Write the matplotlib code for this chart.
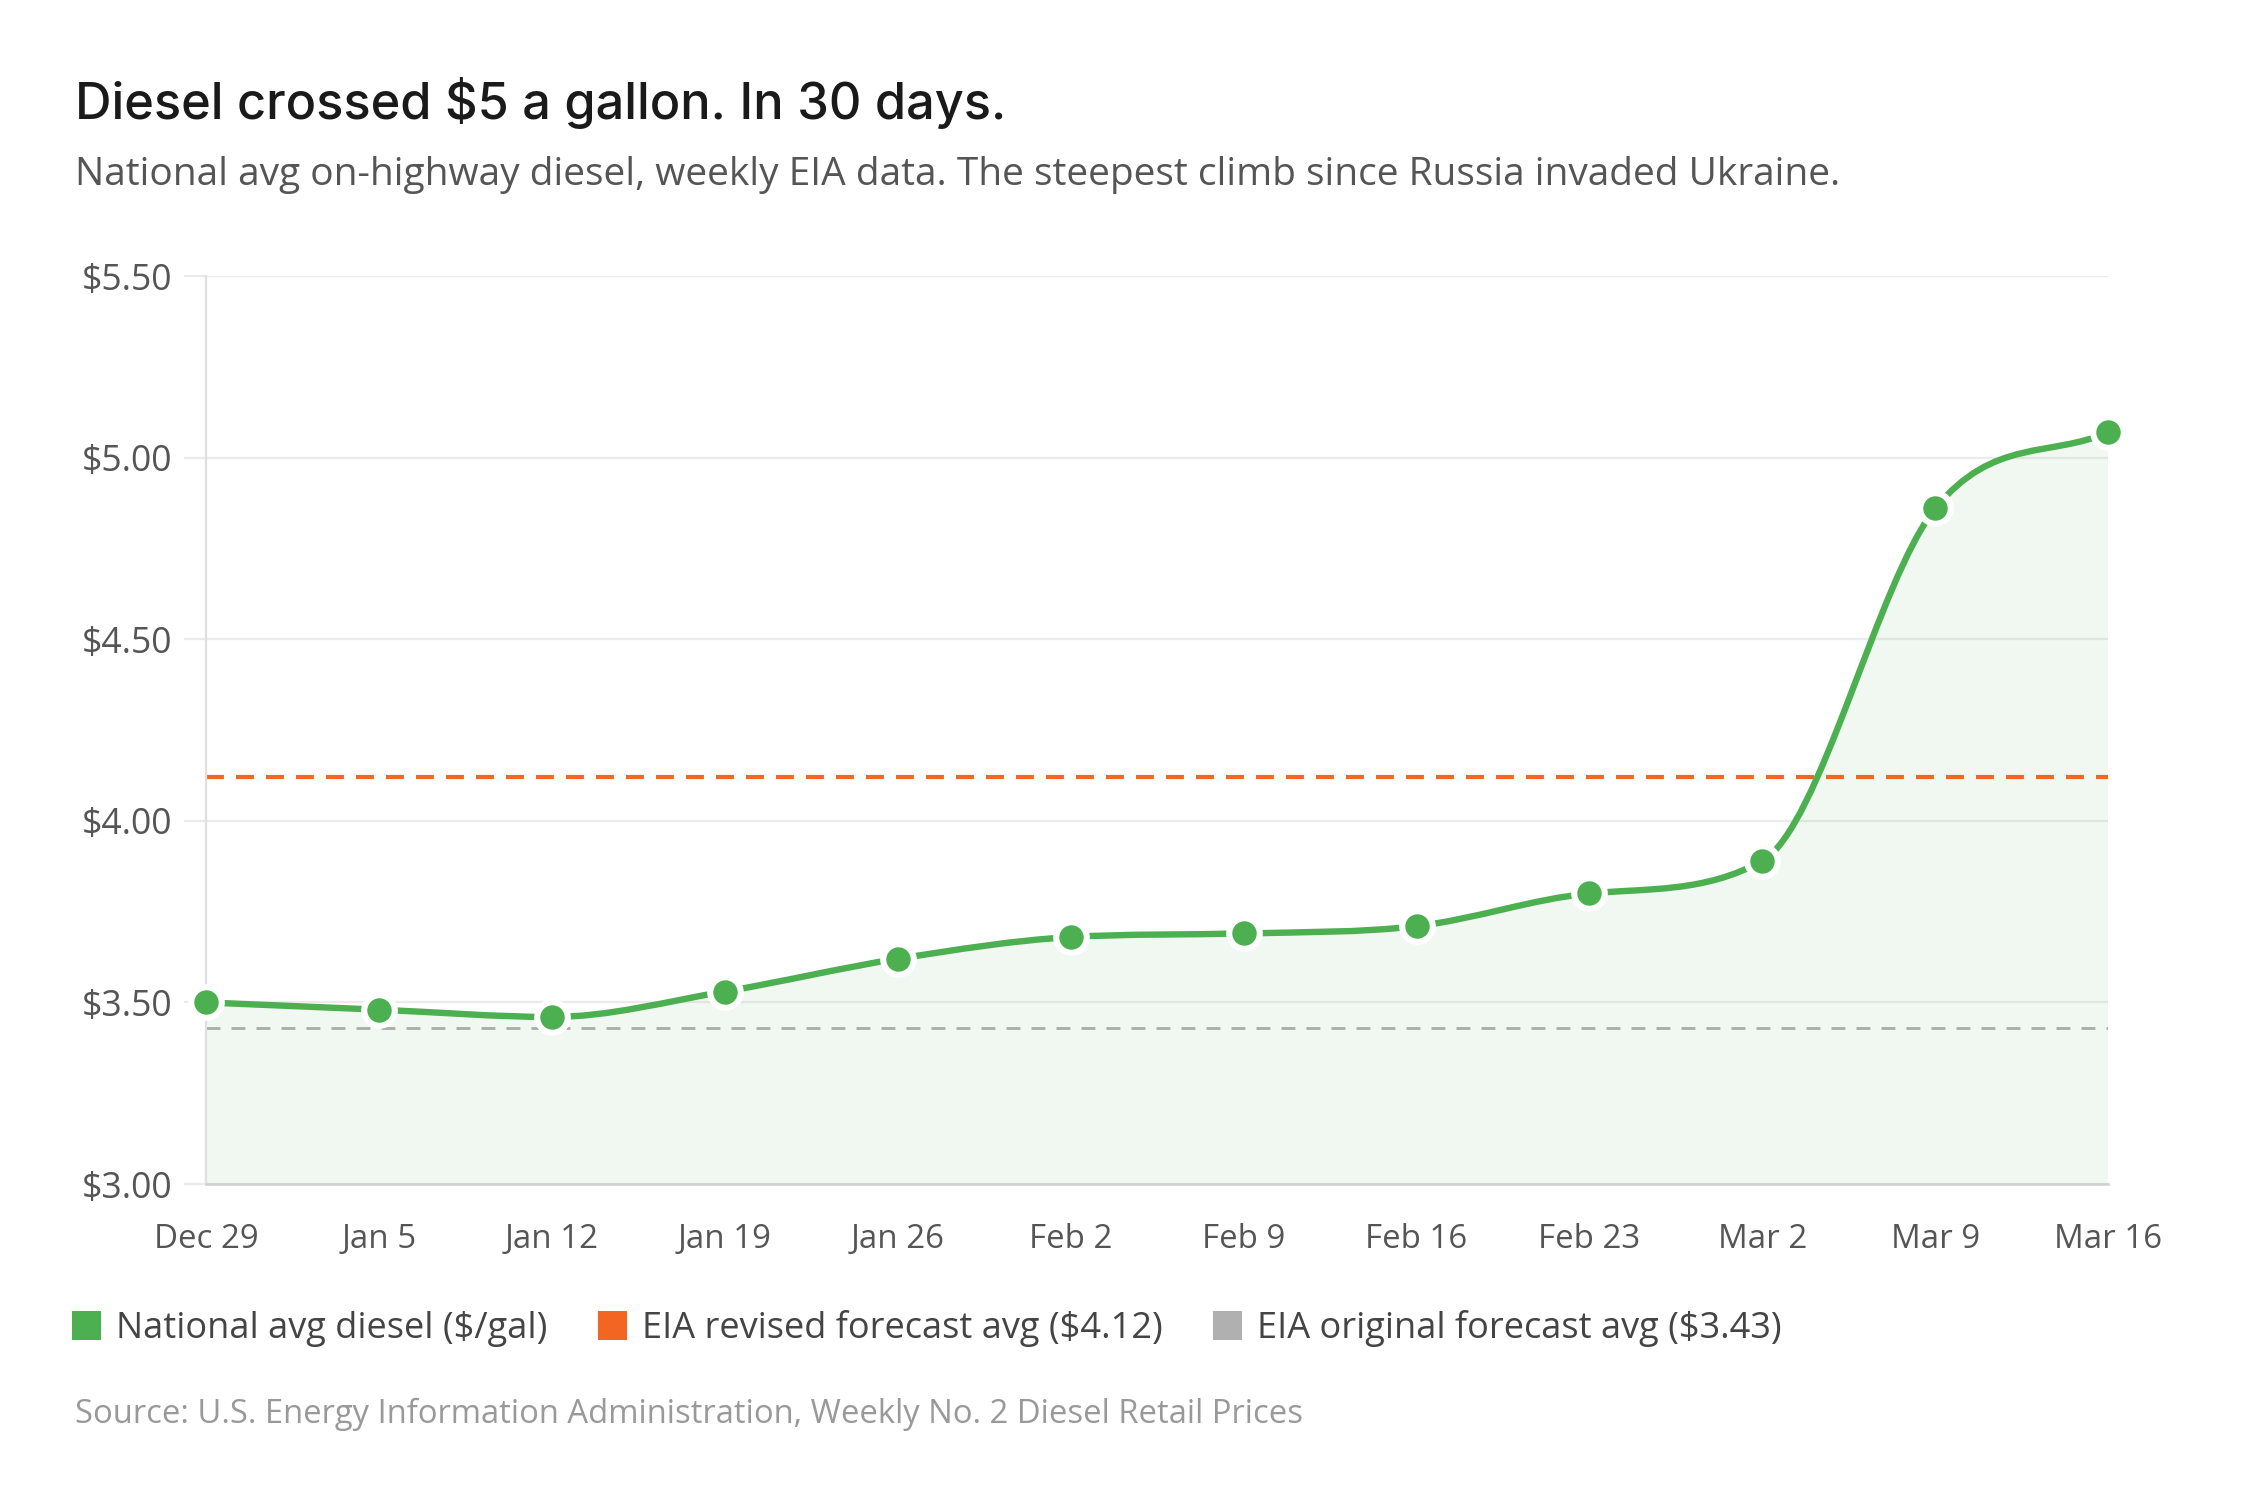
import matplotlib.pyplot as plt
import numpy as np
from matplotlib.path import Path
from matplotlib.patches import PathPatch, Patch

# Weekly data
weeks = ['Dec 29', 'Jan 5', 'Jan 12', 'Jan 19', 'Jan 26', 'Feb 2',
         'Feb 9', 'Feb 16', 'Feb 23', 'Mar 2', 'Mar 9', 'Mar 16']
diesel = [3.50, 3.48, 3.46, 3.53, 3.62, 3.68, 3.69, 3.71, 3.80, 3.89, 4.86, 5.07]
revised_forecast = 4.12
original_forecast = 3.43
y_ticks = [3.00, 3.50, 4.00, 4.50, 5.00, 5.50]

GREEN = '#4CAF50'
ORANGE = '#F26522'
GREY = '#AAAAAA'

plt.rcParams['font.family'] = ['Open Sans', 'DejaVu Sans']

fig = plt.figure(figsize=(11.22, 7.53), dpi=200)
ax = fig.add_axes([0.0918, 0.2138, 0.9395 - 0.0918, 0.8167 - 0.2138])

x = np.arange(len(weeks), dtype=float)
y = np.array(diesel)

# monotone cubic tangents (like chart.js 'monotone')
d = np.diff(y)
m = np.zeros(len(y))
m[0], m[-1] = d[0], d[-1]
for k in range(1, len(y) - 1):
    m[k] = 0.0 if d[k - 1] * d[k] <= 0 else (d[k - 1] + d[k]) / 2
for k in range(len(d)):
    if d[k] == 0:
        m[k] = m[k + 1] = 0.0
        continue
    a, b = m[k] / d[k], m[k + 1] / d[k]
    tau = a * a + b * b
    if tau > 9:
        t = 3 / np.sqrt(tau)
        m[k], m[k + 1] = t * a * d[k], t * b * d[k]

verts = [(x[0], y[0])]
codes = [Path.MOVETO]
for k in range(len(d)):
    verts += [(x[k] + 1 / 3, y[k] + m[k] / 3),
              (x[k + 1] - 1 / 3, y[k + 1] - m[k + 1] / 3),
              (x[k + 1], y[k + 1])]
    codes += [Path.CURVE4] * 3

fill_verts = verts + [(x[-1], y_ticks[0]), (x[0], y_ticks[0]), (x[0], y[0])]
fill_codes = codes + [Path.LINETO, Path.LINETO, Path.CLOSEPOLY]
ax.add_patch(PathPatch(Path(fill_verts, fill_codes), facecolor=GREEN, alpha=0.08,
                       edgecolor='none', zorder=1))

# forecast lines
ax.axhline(original_forecast, color=GREY, lw=1.0, dashes=(5, 4), zorder=2)
ax.axhline(revised_forecast, color=ORANGE, lw=1.5, dashes=(4.3, 2.9), zorder=2)

ax.add_patch(PathPatch(Path(verts, codes), facecolor='none', edgecolor=GREEN,
                       lw=2.3, capstyle='round', zorder=3))
ax.plot(x, y, 'o', color=GREEN, markersize=11, markeredgecolor='white',
        markeredgewidth=2.2, zorder=4, clip_on=False)

ax.set_xlim(x[0], x[-1])
ax.set_ylim(y_ticks[0], y_ticks[-1])
ax.set_yticks(y_ticks)
ax.set_yticklabels([f'${v:.2f}' for v in y_ticks])
ax.set_xticks(x)
ax.set_xticklabels(weeks)

ax.grid(axis='y', color='#EBEBEB', lw=0.8, zorder=0)
ax.set_axisbelow(True)
for s in ['top', 'right']:
    ax.spines[s].set_visible(False)
ax.spines['left'].set_color('#E0E0E0')
ax.spines['left'].set_linewidth(0.8)
ax.spines['bottom'].set_color('#D0D0D0')
ax.spines['bottom'].set_linewidth(0.9)
ax.tick_params(axis='y', length=8, width=0.8, color='#EBEBEB', pad=4,
               labelsize=12.8, labelcolor='#555555')
ax.tick_params(axis='x', length=0, pad=14, labelsize=11.9, labelcolor='#555555')

# titles
fig.text(0.0334, 0.921, 'Diesel crossed $5 a gallon. In 30 days.', fontsize=18.2,
         family=['Inter', 'DejaVu Sans'], fontweight='medium',
         color='#1A1A1A', va='baseline')
fig.text(0.0334, 0.877, 'National avg on-highway diesel, weekly EIA data. '
         'The steepest climb since Russia invaded Ukraine.', fontsize=14,
         color='#555555', va='baseline')

handles = [Patch(facecolor=GREEN, edgecolor='none'),
           Patch(facecolor=ORANGE, edgecolor='none'),
           Patch(facecolor='#B0B0B0', edgecolor='none')]
labels = ['National avg diesel ($/gal)', 'EIA revised forecast avg ($4.12)',
          'EIA original forecast avg ($3.43)']
leg = fig.legend(handles, labels, loc='center left', bbox_to_anchor=(0.024, 0.118),
                 ncol=3, frameon=False, fontsize=13, borderpad=0,
                 handlelength=0.8, handleheight=0.85, handletextpad=0.42,
                 columnspacing=1.4)
for t in leg.get_texts():
    t.set_color('#444444')

fig.text(0.0334, 0.061, 'Source: U.S. Energy Information Administration, '
         'Weekly No. 2 Diesel Retail Prices', fontsize=11.8, color='#999999',
         va='center')

plt.savefig('out.png', dpi=200, facecolor='white')
